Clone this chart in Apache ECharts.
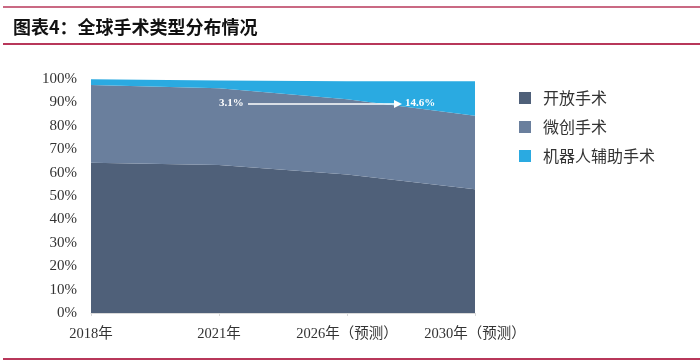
<!DOCTYPE html>
<html>
<head>
<meta charset="utf-8">
<script src="https://cdn.jsdelivr.net/npm/echarts@6/dist/echarts.min.js"></script>
<style>
html,body{margin:0;padding:0;background:#fff;}
#c{width:700px;height:364px;}
</style>
</head>
<body>
<div id="c"></div>
<script>
const categories = ['2018年', '2021年', '2026年(预测)', '2030年(预测)'];
const seriesNames = ['开放手术', '微创手术', '机器人辅助手术'];
const openSurgery = [64.2, 63.2, 59.2, 52.9];
const minimallyInvasive = [33.2, 32.8, 32.1, 31.4];
const robotAssisted = [2.5, 3.4, 7.7, 14.7];
const yTicks = [0, 10, 20, 30, 40, 50, 60, 70, 80, 90, 100];
const titleText = '图表4：全球手术类型分布情况';
const annoStart = '3.1%';
const annoEnd = '14.6%';

const colors = ['#4f6079', '#6a7f9d', '#2aaae1'];
const serif = '"Liberation Serif", "Times New Roman", "Noto Sans CJK SC", serif';
const cjk = '"Noto Sans CJK SC", sans-serif';

const chart = echarts.init(document.getElementById('c'), null, {renderer: 'canvas'});
const dataSets = [openSurgery, minimallyInvasive, robotAssisted];

chart.setOption({
  animation: false,
  backgroundColor: '#fff',
  color: colors,
  grid: {left: 91, right: 225, top: 79, bottom: 51, containLabel: false},
  legend: {
    orient: 'vertical',
    left: 514,
    top: 85,
    icon: 'rect',
    itemWidth: 12,
    itemHeight: 12,
    itemGap: 13,
    data: seriesNames,
    textStyle: {fontFamily: cjk, fontSize: 16, color: '#333', padding: [0, 0, 0, 7]}
  },
  xAxis: {
    type: 'category',
    data: categories,
    boundaryGap: false,
    axisLine: {show: true, lineStyle: {color: '#d9d9d9', width: 1}},
    axisTick: {show: true, length: 3, lineStyle: {color: '#d9d9d9'}},
    axisLabel: {
      interval: 0, hideOverlap: false,
      fontFamily: serif, fontSize: 14.5, color: '#333', margin: 14,
      formatter: v => v.replace('(', '（').replace(')', '）')
    },
    z: 10
  },
  yAxis: {
    type: 'value',
    min: 0,
    max: 100,
    interval: 10,
    axisLine: {show: false},
    axisTick: {show: false},
    splitLine: {show: false},
    axisLabel: {fontFamily: serif, fontSize: 15, color: '#333', margin: 14, formatter: '{value}%'}
  },
  series: seriesNames.map((n, i) => ({
    name: n,
    type: 'line',
    stack: 'total',
    data: dataSets[i],
    symbol: 'none',
    lineStyle: {width: 0},
    areaStyle: {color: colors[i], opacity: 1},
    itemStyle: {color: colors[i]}
  })),
  graphic: [
    {type: 'line', shape: {x1: 3, y1: 7, x2: 700, y2: 7}, style: {stroke: '#b8375a', lineWidth: 1.5}},
    {type: 'text', left: 13, top: 18, style: {text: titleText, font: 'bold 18px ' + cjk, fill: '#111'}},
    {type: 'line', shape: {x1: 3, y1: 44, x2: 700, y2: 44}, style: {stroke: '#b8375a', lineWidth: 2}},
    {type: 'line', shape: {x1: 3, y1: 359, x2: 700, y2: 359}, style: {stroke: '#b8375a', lineWidth: 2}},
    {type: 'text', left: 219, top: 98, z: 100, style: {text: annoStart, font: 'bold 11px ' + serif, fill: '#fff'}},
    {type: 'line', z: 100, shape: {x1: 248, y1: 104, x2: 396, y2: 104}, style: {stroke: '#fff', lineWidth: 1.5}},
    {type: 'polygon', z: 100, shape: {points: [[394, 100], [402, 104], [394, 108]]}, style: {fill: '#fff'}},
    {type: 'text', left: 405, top: 98, z: 100, style: {text: annoEnd, font: 'bold 11px ' + serif, fill: '#fff'}}
  ]
});
</script>
</body>
</html>
